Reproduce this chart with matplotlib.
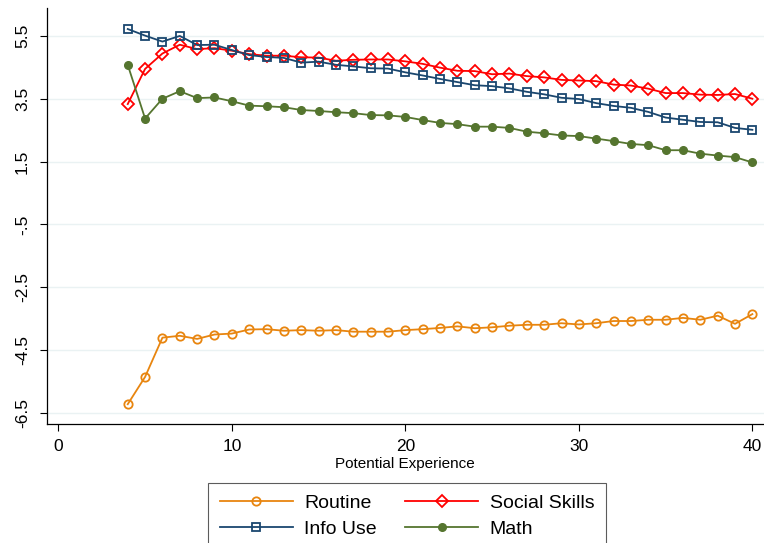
import matplotlib
matplotlib.use("Agg")
import matplotlib.pyplot as plt
import numpy as np

plt.rcParams['font.family'] = ['Liberation Sans', 'DejaVu Sans']

# potential experience, years 4..40
exper = list(range(4, 41))

routine = [-6.23, -5.36, -4.11, -4.05, -4.15, -4.01, -3.98, -3.85, -3.84, -3.89,
           -3.87, -3.89, -3.87, -3.92, -3.92, -3.92, -3.87, -3.84, -3.80, -3.75,
           -3.81, -3.78, -3.73, -3.70, -3.70, -3.65, -3.69, -3.65, -3.58, -3.58,
           -3.54, -3.54, -3.48, -3.54, -3.41, -3.67, -3.36]

social = [3.33, 4.45, 4.94, 5.22, 5.08, 5.11, 5.03, 4.92, 4.87, 4.87,
          4.82, 4.81, 4.71, 4.74, 4.75, 4.75, 4.69, 4.61, 4.49, 4.39,
          4.38, 4.28, 4.30, 4.22, 4.18, 4.10, 4.08, 4.06, 3.95, 3.92,
          3.82, 3.68, 3.68, 3.63, 3.62, 3.65, 3.50]

info_use = [5.72, 5.51, 5.32, 5.50, 5.21, 5.22, 5.05, 4.89, 4.83, 4.80,
            4.65, 4.68, 4.58, 4.53, 4.47, 4.46, 4.34, 4.24, 4.13, 4.03,
            3.93, 3.90, 3.83, 3.72, 3.64, 3.53, 3.49, 3.36, 3.27, 3.21,
            3.08, 2.90, 2.83, 2.76, 2.75, 2.57, 2.51]

math = [4.58, 2.87, 3.50, 3.74, 3.52, 3.54, 3.42, 3.28, 3.26, 3.23,
        3.14, 3.11, 3.07, 3.04, 2.98, 2.97, 2.92, 2.82, 2.73, 2.69,
        2.61, 2.61, 2.57, 2.45, 2.40, 2.33, 2.31, 2.23, 2.15, 2.06,
        2.02, 1.86, 1.86, 1.75, 1.69, 1.64, 1.47]

yticks = [5.5, 3.5, 1.5, -0.5, -2.5, -4.5, -6.5]
ytick_labels = ['5.5', '3.5', '1.5', '-.5', '-2.5', '-4.5', '-6.5']
xticks = [0, 10, 20, 30, 40]

c_orange = '#e8850f'
c_red = '#ff0000'
c_navy = '#1a476f'
c_green = '#55752f'

fig = plt.figure(figsize=(7.64, 5.43), dpi=100)
ax = fig.add_axes([46.7 / 764, 1 - 424 / 543, 1 - 46.7 / 764, (424 - 8.3) / 543])

ax.plot(exper, routine, color=c_orange, lw=1.3, marker='o', ms=6,
        mfc='none', mew=1.3, label='Routine')
ax.plot(exper, social, color=c_red, lw=1.3, marker='D', ms=6,
        mfc='none', mew=1.3, label='Social Skills')
ax.plot(exper, info_use, color=c_navy, lw=1.3, marker='s', ms=5.5,
        mfc='none', mew=1.3, label='Info Use')
ax.plot(exper, math, color=c_green, lw=1.3, marker='o', ms=5.5,
        label='Math')

ax.set_xlim(-0.67, 40.67)
ax.set_ylim(-6.86, 6.38)
ax.set_xticks(xticks)
ax.set_yticks(yticks)
ax.set_yticklabels(ytick_labels, rotation=90, va='center')
ax.tick_params(axis='both', labelsize=12.5, length=5, width=0.8)
ax.tick_params(axis='y', pad=7)
ax.tick_params(axis='x', pad=6)
ax.grid(axis='y', color='#eaf2f3', lw=1.0)
ax.set_axisbelow(True)
for s in ['top', 'right']:
    ax.spines[s].set_visible(False)
for s in ['left', 'bottom']:
    ax.spines[s].set_linewidth(0.9)

ax.set_xlabel('Potential Experience', fontsize=11, labelpad=2)

handles, labels = ax.get_legend_handles_labels()
order = [0, 2, 1, 3]
leg = fig.legend([handles[i] for i in order], [labels[i] for i in order],
                 ncol=2, loc='upper left', bbox_to_anchor=(208 / 764, 1 - 483 / 543),
                 borderaxespad=0, fontsize=14, frameon=True, fancybox=False,
                 edgecolor='#333333', handlelength=3.75, handletextpad=0.6,
                 columnspacing=1.45, borderpad=0.6, labelspacing=0.4)
leg.get_frame().set_linewidth(0.8)

fig.savefig('out.png', dpi=100)
